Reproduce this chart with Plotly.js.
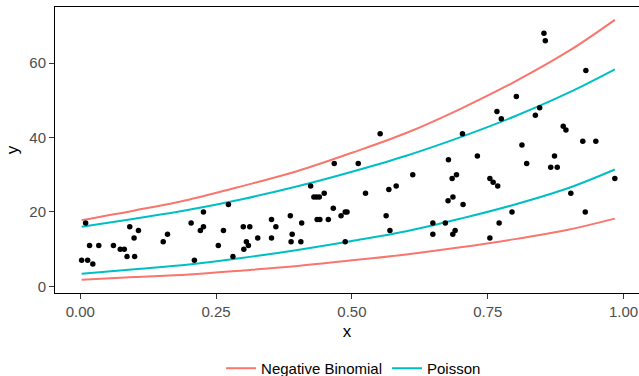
<!DOCTYPE html>
<html>
<head>
<meta charset="utf-8">
<script src="https://cdn.plot.ly/plotly-3.0.1.min.js"></script>
<style>
html,body{margin:0;padding:0;background:#fff;}
#chart{width:639px;height:376px;}
</style>
</head>
<body>
<div id="chart"></div>
<script>
var pointX = [0.0024,0.0098,0.0135,0.017,0.023,0.034,0.061,0.0735,0.081,0.086,
  0.091,0.099,0.100,0.107,0.1526,0.1605,0.204,0.210,0.221,0.2267,
  0.2267,0.254,0.2635,0.2727,0.281,0.300,0.301,0.3057,0.3094,0.312,
  0.3266,0.352,0.352,0.360,0.3866,0.388,0.390,0.406,0.4075,0.424,
  0.430,0.435,0.440,0.436,0.441,0.449,0.4565,0.4657,0.4675,0.480,
  0.4877,0.491,0.4877,0.5116,0.525,0.552,0.563,0.568,0.570,0.5815,
  0.612,0.649,0.649,0.672,0.677,0.6777,0.6845,0.686,0.6857,0.690,
  0.6925,0.7035,0.7046,0.731,0.754,0.754,0.760,0.767,0.7684,0.771,
  0.775,0.7947,0.8027,0.813,0.8217,0.8377,0.8456,0.8535,0.856,0.866,
  0.873,0.878,0.889,0.894,0.903,0.925,0.9296,0.9307,0.949,0.984];
var pointY = [7,17,7,11,6,11,11,10,10,8,
  16,13,8,15,12,14,17,7,15,20,
  16,11,15,22,8,16,10,12,11,16,
  13,18,13,16,19,12,14,12,17,27,
  24,24,24,18,18,25,18,21,33,19,
  20,20,12,33,25,41,19,26,15,27,
  30,17,14,17,23,34,29,24,14,15,
  30,41,22,35,29,13,28,47,27,17,
  45,20,51,38,33,46,48,68,66,32,
  35,32,43,42,25,39,20,58,39,29];

// Interval curves
var curveX = [0.0024,0.1,0.2,0.3,0.4,0.5,0.6,0.7,0.8,0.9,0.984];
var nbUpper = [17.8,20.4,23.3,27.0,31.0,35.9,41.2,47.7,55.0,63.3,71.6];
var nbLower = [1.8,2.5,3.2,4.3,5.5,7.0,8.6,10.5,12.7,15.3,18.2];
var poisUpper = [16.0,18.2,20.6,23.5,26.9,30.8,35.1,40.1,45.7,52.1,58.3];
var poisLower = [3.4,4.6,5.9,7.7,9.8,12.2,14.8,18.2,22.0,26.5,31.4];

var seriesNames = ["Negative Binomial","Poisson"];
var xTicks = [0,0.25,0.5,0.75,1];
var xTickText = ["0.00","0.25","0.50","0.75","1.00"];
var yTicks = [0,20,40,60];

var RED = "#F8766D", CYAN = "#00BFC4";
var font = "Liberation Sans, Arial, Helvetica, sans-serif";

function curve(y, name, color, show) {
  return {x: curveX, y: y, type: "scatter", mode: "lines", name: name,
    legendgroup: name, showlegend: show,
    line: {color: color, width: 2, shape: "spline", smoothing: 1},
    hoverinfo: "skip"};
}

var data = [
  curve(nbUpper, seriesNames[0], RED, true),
  curve(nbLower, seriesNames[0], RED, false),
  curve(poisUpper, seriesNames[1], CYAN, true),
  curve(poisLower, seriesNames[1], CYAN, false),
  {x: pointX, y: pointY, type: "scatter", mode: "markers", showlegend: false,
   marker: {color: "#000000", size: 5.5}}
];

var layout = {
  width: 639, height: 376,
  margin: {l: 55, r: 0, t: 7, b: 83, pad: 0, autoexpand: false},
  paper_bgcolor: "#ffffff", plot_bgcolor: "#ffffff",
  font: {family: font, size: 15, color: "#000000"},
  showlegend: true,
  legend: {orientation: "h", xref: "container", yref: "container",
    x: 0.346, xanchor: "left", y: 0.02, yanchor: "middle",
    font: {family: font, size: 15, color: "#000000"}, itemwidth: 30,
    traceorder: "normal", bgcolor: "rgba(0,0,0,0)"},
  xaxis: {
    range: [-0.0466, 1.0285], showgrid: false, zeroline: false,
    showline: true, linecolor: "#000000", linewidth: 1, mirror: true,
    ticks: "outside", ticklen: 5, tickwidth: 1, tickcolor: "#333333",
    tickvals: xTicks, ticktext: xTickText,
    tickfont: {family: font, size: 15, color: "#4d4d4d"},
    title: {text: "x", font: {family: font, size: 17, color: "#000000"}, standoff: 6},
    automargin: false
  },
  yaxis: {
    range: [-1.77, 75.04], showgrid: false, zeroline: false,
    showline: true, linecolor: "#000000", linewidth: 1,
    ticks: "outside", ticklen: 5, tickwidth: 1, tickcolor: "#333333",
    tickvals: yTicks,
    tickfont: {family: font, size: 15, color: "#4d4d4d"},
    title: {text: "y", font: {family: font, size: 17, color: "#000000"}, standoff: 6},
    automargin: false
  }
};

Plotly.newPlot("chart", data, layout, {displayModeBar: false, staticPlot: true});
</script>
</body>
</html>
